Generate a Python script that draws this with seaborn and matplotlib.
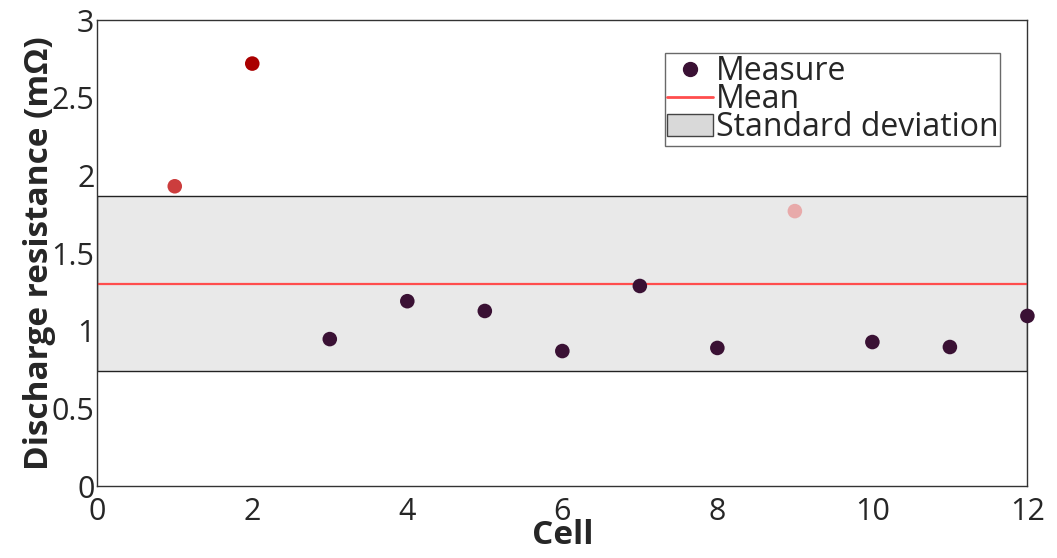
import numpy as np
import pandas as pd
import matplotlib
matplotlib.use('Agg')
import matplotlib.pyplot as plt
import seaborn as sns
from matplotlib.patches import Patch
from matplotlib.lines import Line2D

# values
cells = [1, 2, 3, 4, 5, 6, 7, 8, 9, 10, 11, 12]
resistance = [1.93, 2.72, 0.946, 1.19, 1.127, 0.869, 1.288, 0.889, 1.77, 0.927, 0.895, 1.095]
point_colors = ['#cc3d3d', '#aa0000', '#3a1134', '#3a1134', '#3a1134', '#3a1134',
                '#3a1134', '#3a1134', '#e8aaaa', '#3a1134', '#3a1134', '#3a1134']

df = pd.DataFrame({'cell': cells, 'res': resistance})
mean = df.res.mean()
std = df.res.std()

sns.set_style('white')
plt.rcParams['font.family'] = ['Open Sans', 'DejaVu Sans']

fig, ax = plt.subplots(figsize=(10.57, 5.58), dpi=100)
fig.subplots_adjust(left=0.092, right=0.972, top=0.964, bottom=0.129)

# standard deviation band and mean line
ax.axhspan(mean - std, mean + std, facecolor='#e9e9e9', edgecolor='#222222', lw=1, zorder=1)
ax.axhline(mean, color='#ff4d4d', lw=1.6, zorder=2)

sns.scatterplot(data=df, x='cell', y='res', hue='cell', palette=point_colors,
                s=110, edgecolor='none', legend=False, ax=ax, zorder=3, clip_on=False)

ax.set_xlim(0, 12)
ax.set_ylim(0, 3)
ax.set_xticks([0, 2, 4, 6, 8, 10, 12])
ax.set_yticks([0, 0.5, 1, 1.5, 2, 2.5, 3])
ax.set_yticklabels(['0', '0.5', '1', '1.5', '2', '2.5', '3'])
ax.tick_params(direction='in', length=5, width=1, color='#666666', labelsize=22, pad=2)
ax.tick_params(axis='x', pad=8)
for sp in ax.spines.values():
    sp.set_color('#333333')
    sp.set_linewidth(1)

ax.set_xlabel('Cell', fontsize=24, fontweight='bold', labelpad=-6)
ax.set_ylabel('Discharge resistance (mΩ)', fontsize=24, fontweight='bold', labelpad=-3)

handles = [Line2D([], [], marker='o', ls='none', color='#3a1134', markersize=10),
           Line2D([], [], color='#ff4d4d', lw=2),
           Patch(facecolor='#d9d9d9', edgecolor='#444444')]
leg = ax.legend(handles, ['Measure', 'Mean', 'Standard deviation'], loc='upper right',
                bbox_to_anchor=(0.971, 0.929), fontsize=23, frameon=True, fancybox=False,
                borderpad=0.05, labelspacing=-0.15, handletextpad=0.1, handlelength=1.45,
                borderaxespad=0)
leg.get_frame().set_edgecolor('#444444')
leg.get_frame().set_linewidth(1)

plt.savefig('out.png', dpi=100)
